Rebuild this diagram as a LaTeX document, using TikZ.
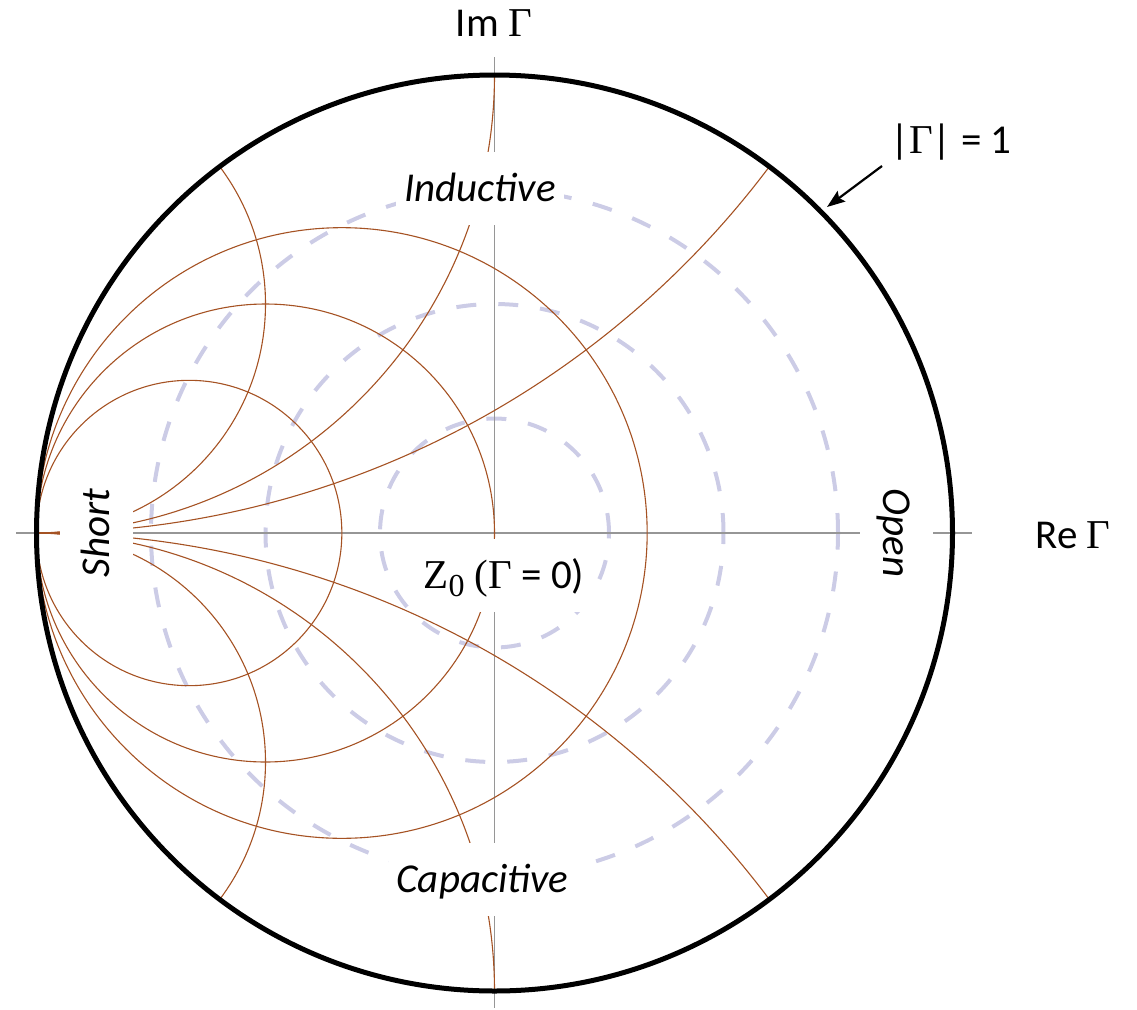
\documentclass[tikz,border=0pt]{standalone}
\usepackage{fontspec}
\setmainfont{Carlito}
\newfontfamily\serifG{Liberation Serif}
\usetikzlibrary{arrows.meta}
\definecolor{smbrown}{RGB}{165,82,35}
\definecolor{smdash}{RGB}{204,204,230}
\definecolor{smaxis}{RGB}{150,150,150}
\tikzset{
  gridline/.style={smbrown, line width=1.1pt},
  dashcirc/.style={smdash, line width=4pt, dash pattern=on 20pt off 22pt},
  axisline/.style={smaxis, line width=1.3pt},
  boundary/.style={black, line width=5pt},
  labbox/.style={fill=white, inner xsep=8pt, inner ysep=0pt, text height=26pt, text depth=0pt, minimum height=73pt, font=\fontsize{41}{49}\selectfont},
  lab/.style={labbox, font=\fontsize{41}{49}\selectfont\itshape},
  outlab/.style={inner sep=0pt, text height=26pt, text depth=0pt, font=\fontsize{41}{49}\selectfont},
  arrowline/.style={black, line width=2.2pt, -{Stealth[length=18pt,width=13pt,inset=3pt]}},
}
\begin{document}
\begin{tikzpicture}[x=1pt,y=-1pt]
\useasboundingbox (0,0) rectangle (1137,1009);
\coordinate (O) at (494.5,533);
% dashed |Gamma| circles
\draw[dashcirc] (O) circle[radius=114.5pt];
\draw[dashcirc] (O) circle[radius=229pt];
\draw[dashcirc] (O) circle[radius=343.5pt];
% axes
\coordinate (axL) at (16,533);
\coordinate (axR) at (972,533);
\coordinate (axT) at (494.5,57);
\coordinate (axB) at (494.5,1008);
\draw[axisline] (axL) -- (axR);
\draw[axisline] (axT) -- (axB);
% constant conductance circles
\draw[gridline] (341.83,533) circle[radius=305.33pt];
\draw[gridline] (265.5,533) circle[radius=229pt];
\draw[gridline] (189.17,533) circle[radius=152.67pt];
% constant susceptance arcs
\begin{scope}
  \clip (O) circle[radius=458pt];
  \draw[gridline] (36.5,304) circle[radius=229pt];
  \draw[gridline] (36.5,762) circle[radius=229pt];
  \draw[gridline] (36.5,75) circle[radius=458pt];
  \draw[gridline] (36.5,991) circle[radius=458pt];
  \draw[gridline] (36.5,-383) circle[radius=916pt];
  \draw[gridline] (36.5,1449) circle[radius=916pt];
\end{scope}
% labels with white boxes
\node[lab, rotate=90] (short) at (96,533) {Short};
\node[lab, rotate=-90] (open) at (896,533) {Open};
\node[lab] (ind) at (480,188.5) {Inductive};
\node[lab] (cap) at (482.5,879.5) {Capacitive};
\node[labbox] (z0) at (504,575) {{\serifG Z\raisebox{-8pt}{\fontsize{32}{32}\selectfont 0} (Γ} = 0)};
% outer boundary
\draw[boundary] (O) circle[radius=458pt];
% outer labels
\node[outlab] (im) at (494,23.5) {Im {\serifG Γ}};
\node[outlab] (re) at (1073,535) {Re {\serifG Γ}};
\node[outlab] (mag) at (951,140.5) {|{\serifG Γ}| = 1};
\coordinate (arrS) at (882,166);
\coordinate (arrE) at (827,207);
\draw[arrowline] (arrS) -- (arrE);
\end{tikzpicture}
\end{document}
